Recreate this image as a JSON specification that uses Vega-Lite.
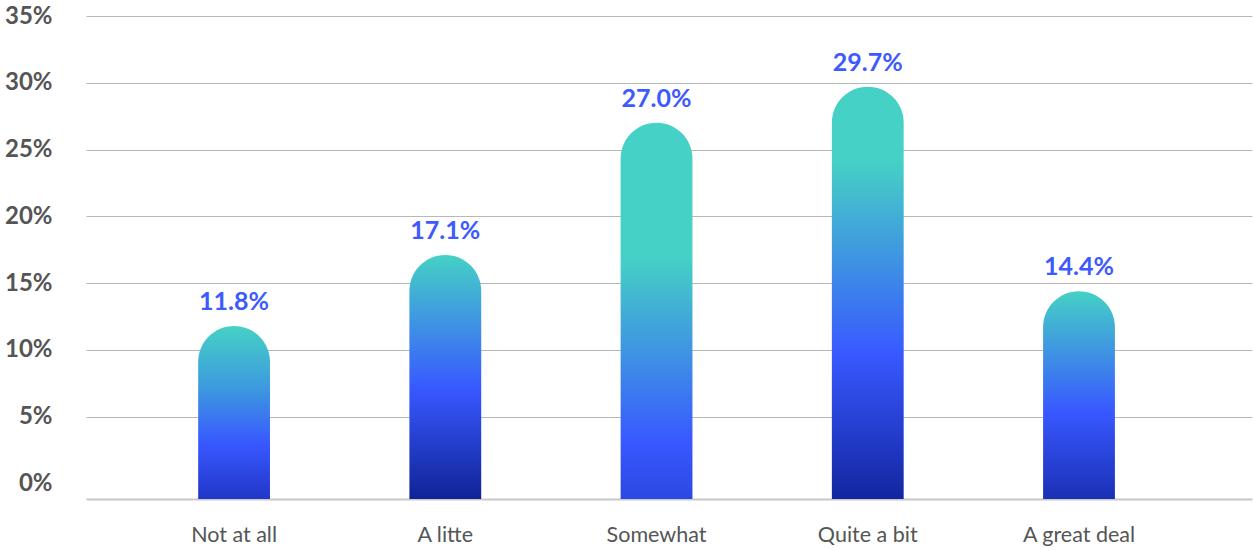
{
  "$schema": "https://vega.github.io/schema/vega-lite/v6.json",
  "autosize": "none",
  "width": 1166,
  "height": 483,
  "padding": {"left": 86, "top": 16, "right": 2, "bottom": 51},
  "background": "white",
  "config": {"view": {"stroke": null}, "font": "Lato"},
  "data": {
    "values": [
      {"cat": "Not at all", "value": 0.118},
      {"cat": "A litte", "value": 0.171},
      {"cat": "Somewhat", "value": 0.270},
      {"cat": "Quite a bit", "value": 0.297},
      {"cat": "A great deal", "value": 0.144}
    ]
  },
  "encoding": {
    "x": {
      "field": "cat", "type": "nominal", "sort": null,
      "scale": {"paddingInner": 0.66, "paddingOuter": 0.59, "align": 0.45},
      "axis": {
        "title": null, "labelAngle": 0, "ticks": false, "labelPadding": 25,
        "labelFont": "Lato", "labelFontSize": 21.5, "labelColor": "#555555",
        "domainColor": "#c8c8c8", "domainWidth": 2, "grid": false
      }
    },
    "y": {
      "field": "value", "type": "quantitative",
      "scale": {"domain": [-0.0116, 0.35], "nice": false, "zero": false},
      "axis": {
        "title": null, "format": ".0%", "values": [0, 0.05, 0.1, 0.15, 0.2, 0.25, 0.3, 0.35],
        "ticks": false, "domain": false, "labelPadding": 34,
        "labelFont": "Lato", "labelFontSize": 24, "labelFontWeight": "bold", "labelColor": "#555555",
        "gridColor": "#b8b8b8", "gridWidth": 1.2,
        "gridOpacity": {"condition": {"test": "datum.value === 0", "value": 0}, "value": 1}
      }
    }
  },
  "layer": [
    {
      "mark": {"type": "bar", "cornerRadiusTopLeft": 36, "cornerRadiusTopRight": 36},
      "encoding": {
        "y2": {"datum": -0.0116},
        "color": {
          "condition": [
            {"test": "datum.cat === 'Not at all'", "value": {"gradient": "linear", "x1": 0, "y1": 0, "x2": 0, "y2": 1, "stops": [
              {"offset": 0, "color": "#45d1c5"}, {"offset": 0.35, "color": "#3d9bde"}, {"offset": 0.68, "color": "#3858ff"}, {"offset": 1, "color": "#2236c8"}]}},
            {"test": "datum.cat === 'A litte'", "value": {"gradient": "linear", "x1": 0, "y1": 0, "x2": 0, "y2": 1, "stops": [
              {"offset": 0, "color": "#45d1c5"}, {"offset": 0.55, "color": "#3858ff"}, {"offset": 1, "color": "#0f2396"}]}},
            {"test": "datum.cat === 'Somewhat'", "value": {"gradient": "linear", "x1": 0, "y1": 0, "x2": 0, "y2": 1, "stops": [
              {"offset": 0, "color": "#45d1c5"}, {"offset": 0.36, "color": "#45d1c5"}, {"offset": 0.85, "color": "#3858ff"}, {"offset": 1, "color": "#2c48e2"}]}},
            {"test": "datum.cat === 'Quite a bit'", "value": {"gradient": "linear", "x1": 0, "y1": 0, "x2": 0, "y2": 1, "stops": [
              {"offset": 0, "color": "#45d1c5"}, {"offset": 0.18, "color": "#45d1c5"}, {"offset": 0.65, "color": "#3858ff"}, {"offset": 1, "color": "#1226a0"}]}}
          ],
          "value": {"gradient": "linear", "x1": 0, "y1": 0, "x2": 0, "y2": 1, "stops": [
            {"offset": 0, "color": "#45d1c5"}, {"offset": 0.58, "color": "#3858ff"}, {"offset": 1, "color": "#1a30b5"}]}
        }
      }
    },
    {
      "mark": {"type": "text", "baseline": "bottom", "dy": -11, "font": "Lato", "fontSize": 25, "fontWeight": "bold", "color": "#3d5afe"},
      "encoding": {
        "text": {"field": "value", "type": "quantitative", "format": ".1%"}
      }
    }
  ]
}
